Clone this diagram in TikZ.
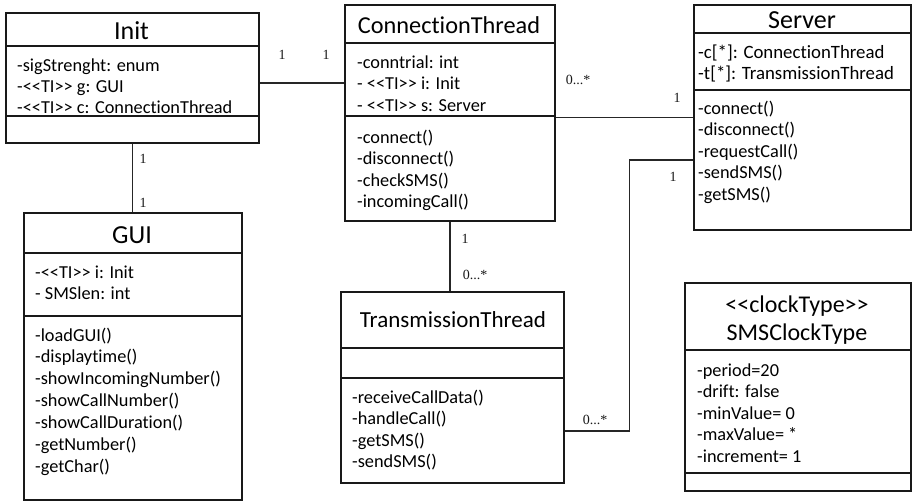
\documentclass[tikz,border=0pt]{standalone}
\usepackage{fontspec}
\setmainfont{Carlito}[Ligatures={TeX,NoCommon}]
\newfontfamily\lblfont{Liberation Serif}
\newcommand\LLa{<\kern0pt<}
\newcommand\GGa{>\kern0pt>}
\tikzset{
  umlbox/.style={draw=black!90, line width=1.8pt, inner sep=0pt, anchor=north west},
  sepline/.style={draw=black!90, line width=1.6pt},
  conn/.style={draw=black!85, line width=1.2pt},
  ctitle/.style={anchor=base, inner sep=0pt, text=black, font=\fontsize{26}{30}\selectfont},
  attr/.style={anchor=base west, inner sep=0pt, text=black, font=\fontsize{18.3}{21.5}\selectfont},
  mult/.style={anchor=base, inner sep=0pt, text=black!90, font=\lblfont\fontsize{14}{16}\selectfont},
}
\begin{document}
\begin{tikzpicture}[x=1pt,y=-1pt]
\useasboundingbox[fill=white] (0,0) rectangle (912,501);

% ---------- Init ----------
\node[umlbox, minimum width=253pt, minimum height=130pt] (init) at (5,12) {};
\draw[sepline] ([yshift=-34pt]init.north west) -- ([yshift=-34pt]init.north east);
\draw[sepline] ([yshift=-104pt]init.north west) -- ([yshift=-104pt]init.north east);
\node[ctitle] (initT) at (131.5,39.5) {Init};
\node[attr] (initA1) at (17,71) {-sigStrenght: enum};
\node[attr] (initA2) at (17,92.5) {-\LLa TI\GGa{} g: GUI};
\node[attr] (initA3) at (17,113.5) {-\LLa TI\GGa{} c: ConnectionThread};

% ---------- ConnectionThread ----------
\node[umlbox, minimum width=210pt, minimum height=216pt] (ct) at (344,4) {};
\draw[sepline] ([yshift=-39pt]ct.north west) -- ([yshift=-39pt]ct.north east);
\draw[sepline] ([yshift=-112pt]ct.north west) -- ([yshift=-112pt]ct.north east);
\node[ctitle, font=\fontsize{24.3}{28}\selectfont] (ctT) at (449,33) {ConnectionThread};
\node[attr] (ctA1) at (357,68) {-conntrial: int};
\node[attr] (ctA2) at (357,89.5) {- \LLa TI\GGa{} i: Init};
\node[attr] (ctA3) at (357,111) {- \LLa TI\GGa{} s: Server};
\node[attr] (ctM1) at (357,143) {-connect()};
\node[attr] (ctM2) at (357,164.5) {-disconnect()};
\node[attr] (ctM3) at (357,186) {-checkSMS()};
\node[attr] (ctM4) at (357,207.5) {-incomingCall()};

% ---------- Server ----------
\node[umlbox, minimum width=217pt, minimum height=225pt] (srv) at (693,4) {};
\draw[sepline] ([yshift=-29pt]srv.north west) -- ([yshift=-29pt]srv.north east);
\draw[sepline] ([yshift=-86pt]srv.north west) -- ([yshift=-86pt]srv.north east);
\node[ctitle] (srvT) at (802,28.3) {Server};
\node[attr, font=\fontsize{18.8}{21.5}\selectfont] (srvA1) at (698,58) {-c[*]: ConnectionThread};
\node[attr, font=\fontsize{18.8}{21.5}\selectfont] (srvA2) at (698,79.5) {-t[*]: TransmissionThread};
\node[attr] (srvM1) at (698,114) {-connect()};
\node[attr] (srvM2) at (698,135.5) {-disconnect()};
\node[attr] (srvM3) at (698,157) {-requestCall()};
\node[attr] (srvM4) at (698,178.5) {-sendSMS()};
\node[attr] (srvM5) at (698,200) {-getSMS()};

% ---------- GUI ----------
\node[umlbox, minimum width=218pt, minimum height=287pt] (gui) at (23,212) {};
\draw[sepline] ([yshift=-41pt]gui.north west) -- ([yshift=-41pt]gui.north east);
\draw[sepline] ([yshift=-104pt]gui.north west) -- ([yshift=-104pt]gui.north east);
\node[ctitle] (guiT) at (132,243) {GUI};
\node[attr] (guiA1) at (35,278) {-\LLa TI\GGa{} i: Init};
\node[attr] (guiA2) at (35,299.5) {- SMSlen: int};
\node[attr] (guiM1) at (35,341) {-loadGUI()};
\node[attr] (guiM2) at (35,362.5) {-displaytime()};
\node[attr] (guiM3) at (35,384) {-showIncomingNumber()};
\node[attr] (guiM4) at (35,406) {-showCallNumber()};
\node[attr] (guiM5) at (35,428) {-showCallDuration()};
\node[attr] (guiM6) at (35,450) {-getNumber()};
\node[attr] (guiM7) at (35,472) {-getChar()};

% ---------- TransmissionThread ----------
\node[umlbox, minimum width=223pt, minimum height=191pt] (tt) at (340,291) {};
\draw[sepline] ([yshift=-57pt]tt.north west) -- ([yshift=-57pt]tt.north east);
\draw[sepline] ([yshift=-87pt]tt.north west) -- ([yshift=-87pt]tt.north east);
\node[ctitle, font=\fontsize{23}{27}\selectfont] (ttT) at (453,327.5) {TransmissionThread};
\node[attr] (ttM1) at (352,403) {-receiveCallData()};
\node[attr] (ttM2) at (352,424.5) {-handleCall()};
\node[attr] (ttM3) at (352,446) {-getSMS()};
\node[attr] (ttM4) at (352,467.5) {-sendSMS()};

% ---------- SMSClockType ----------
\node[umlbox, minimum width=226pt, minimum height=208pt] (clk) at (684,282) {};
\draw[sepline] ([yshift=-68pt]clk.north west) -- ([yshift=-68pt]clk.north east);
\draw[sepline] ([yshift=-191pt]clk.north west) -- ([yshift=-191pt]clk.north east);
\node[ctitle, font=\fontsize{24}{28}\selectfont] (clkT1) at (797,312) {\LLa clockType\GGa};
\node[ctitle, font=\fontsize{24}{28}\selectfont] (clkT2) at (797,340) {SMSClockType};
\node[attr] (clkA1) at (697,376) {-period=20};
\node[attr] (clkA2) at (697,397.5) {-drift: false};
\node[attr] (clkA3) at (697,419) {-minValue= 0};
\node[attr] (clkA4) at (697,440.5) {-maxValue= *};
\node[attr] (clkA5) at (697,462) {-increment= 1};

% ---------- connectors ----------
\draw[conn] ([yshift=-5pt]init.east) -- ([yshift=-5pt]init.east -| ct.west);
\draw[conn] (init.south) -- (init.south |- gui.north);
\draw[conn] ([yshift=-4.5pt]ct.east) -- ([yshift=-4.5pt]ct.east -| srv.west);
\draw[conn] (ct.south) -- (ct.south |- tt.north);
\draw[conn] ([yshift=-43.5pt]tt.east) -- ++(65,0) |- ([yshift=-42.5pt]srv.west);

% ---------- multiplicities ----------
\node[mult] (m1) at (282,59) {1};
\node[mult] (m2) at (326,59) {1};
\node[mult] (m3) at (143,163) {1};
\node[mult] (m4) at (143,207) {1};
\node[mult] (m5) at (578,84) {0...*};
\node[mult] (m6) at (677,102) {1};
\node[mult] (m7) at (465,243) {1};
\node[mult] (m8) at (475,279) {0...*};
\node[mult] (m9) at (673,181) {1};
\node[mult] (m10) at (595,424) {0...*};
\end{tikzpicture}
\end{document}
